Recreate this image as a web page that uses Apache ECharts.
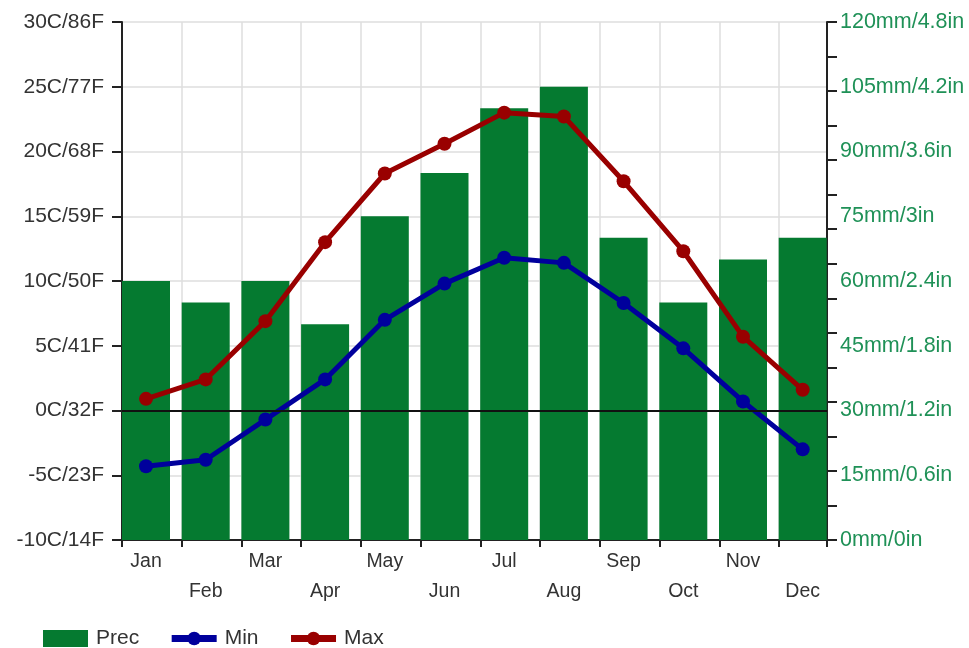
<!DOCTYPE html>
<html>
<head>
<meta charset="utf-8">
<script src="https://cdn.jsdelivr.net/npm/echarts@6/dist/echarts.min.js"></script>
<style>
  html, body { margin: 0; padding: 0; background: #fff; }
  #chart { width: 969px; height: 648px; }
</style>
</head>
<body>
<div id="chart"></div>
<script>
const months = ["Jan", "Feb", "Mar", "Apr", "May", "Jun", "Jul", "Aug", "Sep", "Oct", "Nov", "Dec"];
const prec = [60, 55, 60, 50, 75, 85, 100, 105, 70, 55, 65, 70];
const tempMin = [-4.3, -3.8, -0.7, 2.4, 7.0, 9.8, 11.8, 11.4, 8.3, 4.8, 0.7, -3.0];
const tempMax = [0.9, 2.4, 6.9, 13.0, 18.3, 20.6, 23.0, 22.7, 17.7, 12.3, 5.7, 1.6];

const font = "'Liberation Sans', Arial, sans-serif";
const axisBlack = { color: "#222", width: 2 };
const gridGrey = { color: "#dedede", width: 1.5 };

const chart = echarts.init(document.getElementById("chart"));

const option = {
  backgroundColor: "#fff",
  animation: false,
  textStyle: { fontFamily: font },
  grid: [
    { left: 122, right: 142, top: 22, bottom: 108 },
    { left: 116.15, width: 716.4, top: 22, bottom: 108 },
  ],
  legend: {
    data: [
      { name: "Prec", icon: "rect" },
      { name: "Min", lineStyle: { width: 7 } },
      { name: "Max", lineStyle: { width: 7 } },
    ],
    left: 43,
    top: 628,
    padding: 0,
    itemWidth: 45,
    itemHeight: 17,
    itemGap: 29,
    textStyle: { fontSize: 21, color: "#333", fontFamily: font, padding: [0, 0, 0, 3] },
  },
  xAxis: [
    {
      gridIndex: 0,
      type: "value",
      min: 0,
      max: 11.8,
      interval: 1,
      axisLine: { show: true, onZero: false, lineStyle: axisBlack },
      axisTick: { show: true, length: 7, lineStyle: axisBlack },
      axisLabel: { show: false },
      splitLine: { show: true, lineStyle: gridGrey },
    },
    {
      gridIndex: 1,
      type: "category",
      data: months,
      boundaryGap: true,
      axisLine: { show: false },
      axisTick: { show: false },
      splitLine: { show: false },
      axisLabel: {
        interval: 0,
        margin: 7,
        fontSize: 19.5,
        lineHeight: 30,
        color: "#333",
        fontFamily: font,
        formatter: (v, i) => (i % 2 === 1 ? "\n" + v : v),
      },
    },
  ],
  yAxis: [
    {
      gridIndex: 0,
      type: "value",
      position: "left",
      min: -10,
      max: 30,
      interval: 5,
      axisLine: { show: true, onZero: false, lineStyle: axisBlack },
      axisTick: { show: true, length: 10, lineStyle: axisBlack },
      axisLabel: {
        margin: 18,
        fontSize: 21,
        color: "#333",
        fontFamily: font,
        formatter: (v) => v + "C/" + Math.round(v * 9 / 5 + 32) + "F",
      },
      splitLine: { show: true, lineStyle: gridGrey },
    },
    {
      gridIndex: 0,
      type: "value",
      position: "right",
      min: 0,
      max: 120,
      interval: 8,
      axisLine: { show: true, onZero: false, lineStyle: axisBlack },
      axisTick: { show: true, length: 10, lineStyle: axisBlack },
      axisLabel: { show: false },
      splitLine: { show: false },
    },
    {
      gridIndex: 0,
      type: "value",
      position: "right",
      min: 0,
      max: 120,
      interval: 15,
      axisLine: { show: false },
      axisTick: { show: false },
      axisLabel: {
        margin: 13,
        fontSize: 21.5,
        color: "#1f9157",
        fontFamily: font,
        formatter: (v) => v + "mm/" + Number((v / 25).toFixed(1)) + "in",
      },
      splitLine: { show: false },
    },
    { gridIndex: 1, type: "value", min: -10, max: 30, show: false },
    { gridIndex: 1, type: "value", min: 0, max: 120, show: false },
  ],
  series: [
    {
      name: "zero",
      type: "line",
      xAxisIndex: 0,
      yAxisIndex: 0,
      data: [],
      z: 3,
      markLine: {
        silent: true,
        symbol: "none",
        label: { show: false },
        lineStyle: { color: "#111", width: 2, type: "solid" },
        data: [{ yAxis: 0 }],
      },
    },
    {
      name: "Prec",
      type: "bar",
      xAxisIndex: 1,
      yAxisIndex: 4,
      data: prec,
      barWidth: 48,
      itemStyle: { color: "#057a30" },
      z: 2,
    },
    {
      name: "Min",
      type: "line",
      xAxisIndex: 1,
      yAxisIndex: 3,
      data: tempMin,
      symbol: "circle",
      symbolSize: 14,
      lineStyle: { color: "#00009c", width: 5 },
      itemStyle: { color: "#00009c" },
      z: 4,
    },
    {
      name: "Max",
      type: "line",
      xAxisIndex: 1,
      yAxisIndex: 3,
      data: tempMax,
      symbol: "circle",
      symbolSize: 14,
      lineStyle: { color: "#990000", width: 5 },
      itemStyle: { color: "#990000" },
      z: 4,
    },
  ],
};

chart.setOption(option);
</script>
</body>
</html>
